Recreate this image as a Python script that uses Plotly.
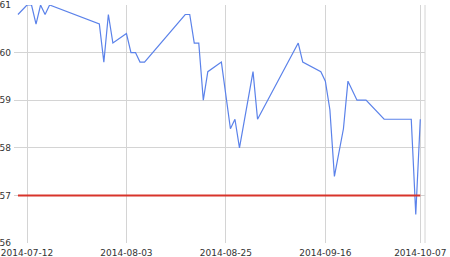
import plotly.graph_objects as go

dates = [
    "2014-07-10", "2014-07-12", "2014-07-13", "2014-07-14", "2014-07-15", "2014-07-16",
    "2014-07-17", "2014-07-28", "2014-07-29", "2014-07-30", "2014-07-31", "2014-08-03",
    "2014-08-04", "2014-08-05", "2014-08-06", "2014-08-07", "2014-08-16", "2014-08-17",
    "2014-08-18", "2014-08-19", "2014-08-20", "2014-08-21", "2014-08-24", "2014-08-26",
    "2014-08-27", "2014-08-28", "2014-08-31", "2014-09-01", "2014-09-10", "2014-09-11",
    "2014-09-15", "2014-09-16", "2014-09-17", "2014-09-18", "2014-09-20", "2014-09-21",
    "2014-09-23", "2014-09-25", "2014-09-29", "2014-10-05", "2014-10-06", "2014-10-07",
]
values = [
    60.8, 61.0, 61.0, 60.6, 61.0, 60.8,
    61.0, 60.6, 59.8, 60.8, 60.2, 60.4,
    60.0, 60.0, 59.8, 59.8, 60.8, 60.8,
    60.2, 60.2, 59.0, 59.6, 59.8, 58.4,
    58.6, 58.0, 59.6, 58.6, 60.2, 59.8,
    59.6, 59.4, 58.8, 57.4, 58.4, 59.4,
    59.0, 59.0, 58.6, 58.6, 56.6, 58.6,
]
threshold = 57
threshold_dates = [dates[0], dates[-1]]
x_ticks = ["2014-07-12", "2014-08-03", "2014-08-25", "2014-09-16", "2014-10-07"]
y_ticks = [56, 57, 58, 59, 60, 61]

fig = go.Figure()
fig.add_trace(go.Scatter(x=dates, y=values, mode="lines",
                         line=dict(color="#5b82ea", width=1.2), hoverinfo="skip"))
fig.add_trace(go.Scatter(x=threshold_dates, y=[threshold, threshold], mode="lines",
                         line=dict(color="#d8342b", width=2), hoverinfo="skip"))

font = dict(family="DejaVu Sans", size=9, color="#333333")
fig.update_layout(
    width=450, height=257,
    margin=dict(l=14, r=25, t=5, b=14, autoexpand=False),
    paper_bgcolor="white", plot_bgcolor="white",
    showlegend=False,
    font=font,
    xaxis=dict(
        range=["2014-07-09 03:00", "2014-10-08 01:00"],
        tickmode="array", tickvals=x_ticks, ticktext=x_ticks,
        showgrid=True, gridcolor="#d4d4d4", gridwidth=1, automargin=False,
        zeroline=False, showline=False, ticks="", tickfont=font,
        ticklabelstandoff=3,
    ),
    yaxis=dict(
        range=[56, 61],
        tickmode="array", tickvals=y_ticks, ticktext=[str(v) for v in y_ticks],
        showgrid=True, gridcolor="#d4d4d4", gridwidth=1, automargin=False,
        zeroline=False, showline=False, ticks="", tickfont=font,
        ticklabelstandoff=2,
    ),
    shapes=[dict(type="line", xref="paper", yref="paper", x0=1, x1=1, y0=0, y1=1,
                 line=dict(color="#d4d4d4", width=1))],
)

fig.write_html("out.html")
